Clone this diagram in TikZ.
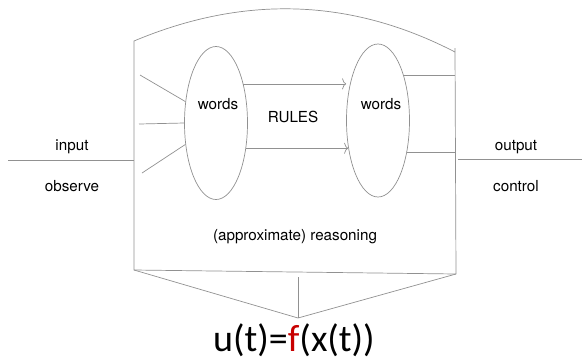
\documentclass[tikz,border=0pt]{standalone}
\usepackage{fontspec}
\setmainfont{TeX Gyre Heros}
\newfontfamily\formulafont{Carlito}
\usetikzlibrary{shapes.geometric,arrows.meta}
\definecolor{linegray}{RGB}{145,145,145}
\definecolor{fred}{RGB}{200,0,0}
\begin{document}
\begin{tikzpicture}[x=1pt,y=-1pt,
  ln/.style={draw=linegray,line width=0.7pt},
  arr/.style={ln,-{To[length=4pt,width=11pt]}},
  wordset/.style={draw=linegray,line width=0.7pt,ellipse,inner sep=0pt,minimum width=63pt,minimum height=153pt},
  lbl/.style={font=\fontsize{15.2}{17}\selectfont,inner sep=0pt},
]
\useasboundingbox (0,0) rectangle (582,360);
% box corners
\coordinate (tl) at (134,41);
\coordinate (tr) at (455,52);
\coordinate (rtop) at (455,48);
\coordinate (bl) at (134,270);
\coordinate (br) at (456,274);
\coordinate (apex) at (298,318);
\coordinate (mid) at (298,277);
% box
\draw[ln] (bl) -- (tl) .. controls (244.3,-5.3) and (351.3,-1.7) .. (tr);
\draw[ln] (rtop) -- (br);
\draw[ln] (bl) -- (br);
\draw[ln] (bl) -- (apex) -- (br);
\draw[ln] (mid) -- (apex);
% ellipses
\node[wordset] (L) at (216,123) {};
\node[wordset] (R) at (378,120.5) {};
\node[lbl] (w1) at (218,104) {words};
\node[lbl] (w2) at (381,104) {words};
\node[lbl] (rules) at (293,117) {RULES};
\node[lbl] (reason) at (295,237) {(approximate) reasoning};
% arrows between ellipses
\draw[arr] (L.55) -- (L.55 -| R.west);
\draw[arr] (L.-40) -- ([xshift=2pt]L.-40 -| R.west);
% incoming lines
\coordinate (i1) at (140,75);
\coordinate (i2) at (139,124);
\coordinate (i3) at (142,173);
\draw[ln] (i1) -- (L.145);
\draw[ln] (i2) -- (L.west);
\draw[ln] (i3) -- (L.-145);
% outgoing lines
\draw[ln] (R.60) -- (R.60 -| rtop);
\draw[ln] (R.-48) -- (R.-48 -| rtop);
% input / output
\coordinate (inL) at (8,160);
\coordinate (inR) at (134,160);
\coordinate (outL) at (458,159);
\coordinate (outR) at (582,159);
\draw[ln] (inL) -- (inR);
\draw[ln] (outL) -- (outR);
\node[lbl] (input) at (72,147) {input};
\node[lbl] (observe) at (72,186) {observe};
\node[lbl] (output) at (516,147) {output};
\node[lbl] (control) at (516,186) {control};
% formula
\node[inner sep=0pt,anchor=base,font=\formulafont\fontsize{38}{40}\selectfont] (formula) at (294,351) {u(t)=\textcolor{fred}{f}(x(t))};
\end{tikzpicture}
\end{document}
